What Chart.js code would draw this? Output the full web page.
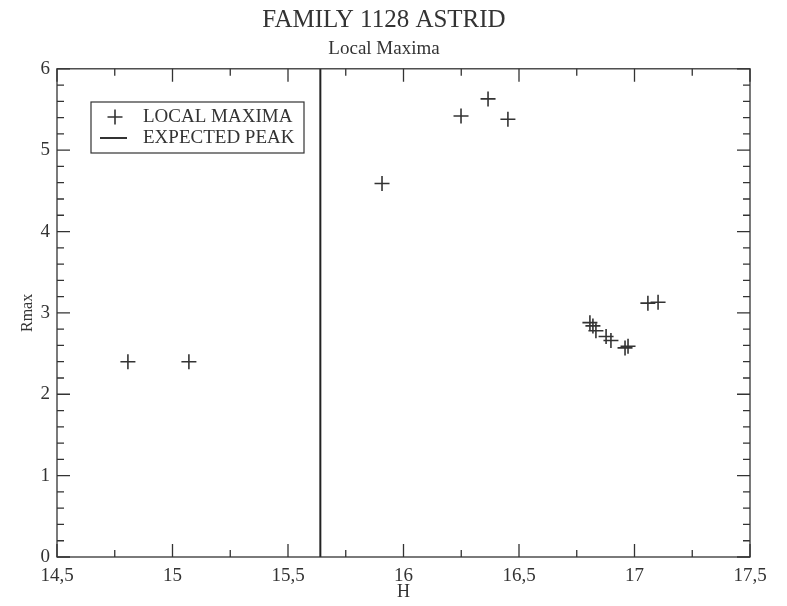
<!DOCTYPE html>
<html>
<head>
<meta charset="utf-8">
<script src="https://cdn.jsdelivr.net/npm/chart.js@4/dist/chart.umd.min.js"></script>
<style>
  html, body { margin: 0; padding: 0; background: #fff; }
  #wrap { width: 787px; height: 606px; }
</style>
</head>
<body>
<div id="wrap"><canvas id="astridChart" width="787" height="606"></canvas></div>
<script>
// H values of the local maxima and their Rmax
const maximaH = [14.807, 15.071, 15.907, 16.249, 16.366, 16.452, 16.807, 16.820, 16.833,
                 16.877, 16.898, 16.959, 16.972, 17.058, 17.102];
const maximaR = [2.40, 2.40, 4.59, 5.42, 5.63, 5.38, 2.88, 2.84, 2.78,
                 2.71, 2.66, 2.57, 2.59, 3.12, 3.13];
const expectedPeakH = 15.64;
const xTicks = [14.5, 15, 15.5, 16, 16.5, 17, 17.5];
const yTicks = [0, 1, 2, 3, 4, 5, 6];

const ink = '#333333';
const serif = '"Liberation Serif", "DejaVu Serif", serif';

// frame with inward ticks on all four sides, plus the boxed legend
const frameAndLegend = {
    id: 'frameAndLegend',
    afterDatasetsDraw(chart) {
        const { ctx, chartArea: a, scales: { x, y } } = chart;
        ctx.save();
        ctx.strokeStyle = ink;
        ctx.lineWidth = 1.3;
        ctx.strokeRect(a.left, a.top, a.right - a.left, a.bottom - a.top);

        ctx.beginPath();
        for (let i = 0; i <= 12; i++) {
            const px = x.getPixelForValue(14.5 + i * 0.25);
            const len = i % 2 === 0 ? 13 : 7;
            ctx.moveTo(px, a.bottom); ctx.lineTo(px, a.bottom - len);
            ctx.moveTo(px, a.top); ctx.lineTo(px, a.top + len);
        }
        for (let i = 0; i <= 30; i++) {
            const py = y.getPixelForValue(i * 0.2);
            const len = i % 5 === 0 ? 13 : 7;
            ctx.moveTo(a.left, py); ctx.lineTo(a.left + len, py);
            ctx.moveTo(a.right, py); ctx.lineTo(a.right - len, py);
        }
        ctx.stroke();

        // legend box
        const bx = 91, by = 102, bw = 213, bh = 51;
        ctx.lineWidth = 1.2;
        ctx.strokeRect(bx, by, bw, bh);
        ctx.lineWidth = 1.6;
        ctx.beginPath();
        ctx.moveTo(bx + 16.5, by + 15); ctx.lineTo(bx + 31.5, by + 15);
        ctx.moveTo(bx + 24, by + 7.5); ctx.lineTo(bx + 24, by + 22.5);
        ctx.stroke();
        ctx.lineWidth = 2;
        ctx.beginPath();
        ctx.moveTo(bx + 9, by + 36); ctx.lineTo(bx + 36, by + 36);
        ctx.stroke();
        ctx.fillStyle = ink;
        ctx.font = '19px ' + serif;
        ctx.textBaseline = 'middle';
        ctx.textAlign = 'left';
        ctx.fillText('LOCAL MAXIMA', bx + 52, by + 15);
        ctx.fillText('EXPECTED PEAK', bx + 52, by + 36);
        ctx.restore();
    }
};

const points = maximaH.map((h, i) => ({ x: h, y: maximaR[i] }));

new Chart(document.getElementById('astridChart').getContext('2d'), {
    type: 'scatter',
    data: {
        datasets: [{
            label: 'LOCAL MAXIMA',
            data: points,
            pointStyle: 'cross',
            pointRadius: 7.5,
            pointHoverRadius: 7.5,
            borderColor: ink,
            borderWidth: 1.6,
            backgroundColor: ink
        }, {
            type: 'line',
            label: 'EXPECTED PEAK',
            data: [{ x: expectedPeakH, y: 0 }, { x: expectedPeakH, y: 6 }],
            borderColor: '#222222',
            borderWidth: 2,
            pointRadius: 0
        }]
    },
    options: {
        responsive: false,
        animation: false,
        events: [],
        layout: { padding: { left: 18, right: 37, top: 0, bottom: 5 } },
        plugins: {
            legend: { display: false },
            tooltip: { enabled: false },
            title: {
                display: true,
                text: 'FAMILY 1128 ASTRID',
                color: ink,
                font: { family: serif, size: 25, weight: 'normal', lineHeight: 1.2 },
                padding: { top: 5, bottom: 3 }
            },
            subtitle: {
                display: true,
                text: 'Local Maxima',
                color: ink,
                font: { family: serif, size: 19, weight: 'normal', lineHeight: 1.2 },
                padding: { top: 0, bottom: 8 }
            }
        },
        scales: {
            x: {
                type: 'linear',
                min: 14.5,
                max: 17.5,
                afterBuildTicks: (s) => { s.ticks = xTicks.map(v => ({ value: v })); },
                afterFit: (s) => { s.height = 44; },
                grid: { display: false, drawTicks: false },
                border: { display: false },
                ticks: {
                    color: ink,
                    padding: 10,
                    font: { family: serif, size: 19, lineHeight: 1 },
                    callback: (v) => String(v).replace('.', ',')
                },
                title: {
                    display: true,
                    text: 'H',
                    color: ink,
                    font: { family: serif, size: 18, lineHeight: 1 },
                    padding: { top: 0, bottom: 0 }
                }
            },
            y: {
                type: 'linear',
                min: 0,
                max: 6,
                afterBuildTicks: (s) => { s.ticks = yTicks.map(v => ({ value: v })); },
                afterFit: (s) => { s.width = 39; },
                grid: { display: false, drawTicks: false },
                border: { display: false },
                ticks: {
                    color: ink,
                    padding: 7,
                    font: { family: serif, size: 19 }
                },
                title: {
                    display: true,
                    text: 'Rmax',
                    color: ink,
                    font: { family: serif, size: 16, lineHeight: 1.2 },
                    padding: { top: 0, bottom: 2 }
                }
            }
        }
    },
    plugins: [frameAndLegend]
});
</script>
</body>
</html>
